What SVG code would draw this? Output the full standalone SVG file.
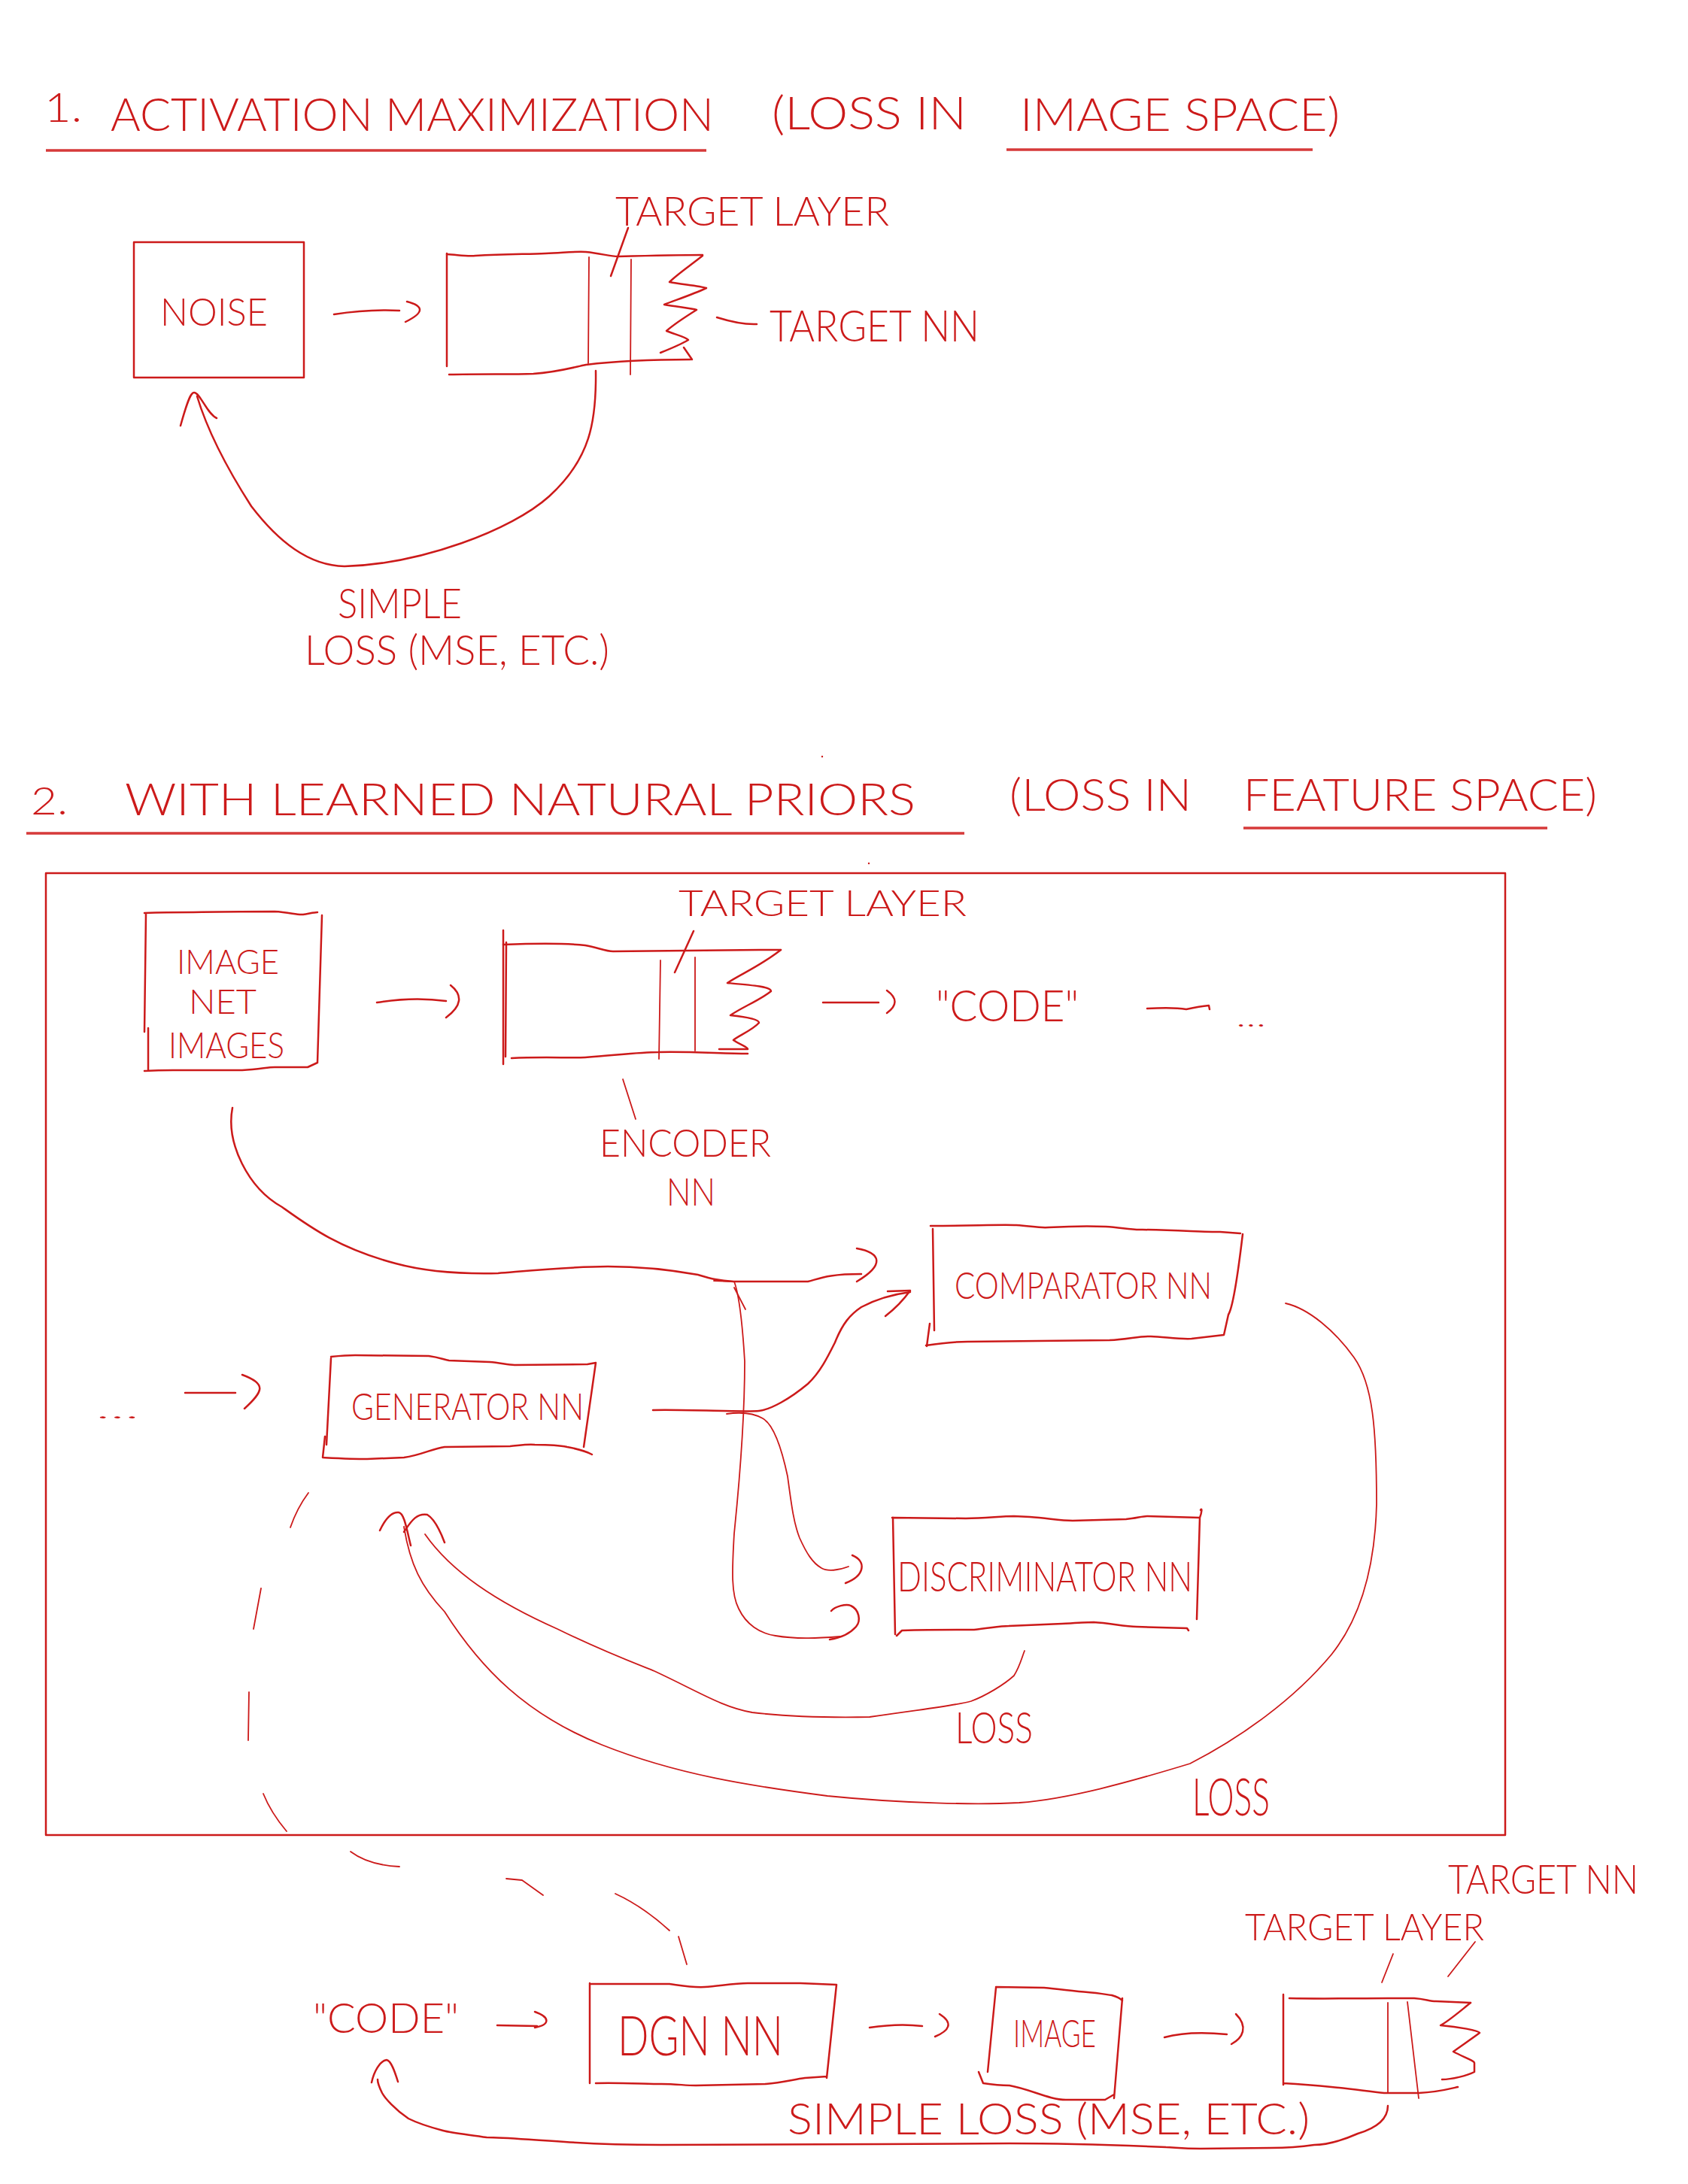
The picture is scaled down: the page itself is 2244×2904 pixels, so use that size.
<svg xmlns="http://www.w3.org/2000/svg" width="2244" height="2904" viewBox="0 0 2244 2904">
<style>
.ln{fill:none;stroke:#cc1a1a;stroke-width:2.5;stroke-linecap:round;stroke-linejoin:round}
.th{fill:none;stroke:#cc1a1a;stroke-width:1.8;stroke-linecap:round;stroke-linejoin:round}
.ul{fill:none;stroke:#d63a3a;stroke-width:3.5}
.tx{font-family:Lato,"Liberation Sans",sans-serif;font-weight:300;fill:#cc1a1a}
</style>
<rect width="2244" height="2904" fill="#ffffff"/>

<g id="title1">
<text class="tx" x="59" y="162" font-size="54" textLength="50" lengthAdjust="spacingAndGlyphs">1.</text>
<text class="tx" x="147" y="174" font-size="62" textLength="802" lengthAdjust="spacingAndGlyphs">ACTIVATION MAXIMIZATION</text>
<text class="tx" x="1026" y="172" font-size="62" textLength="259" lengthAdjust="spacingAndGlyphs">(LOSS IN</text>
<text class="tx" x="1356" y="174" font-size="62" textLength="425" lengthAdjust="spacingAndGlyphs">IMAGE SPACE)</text>
<path class="ul" d="M61,200 L939,200 M1338,199 L1745,199"/>
</g>

<g id="noise">
<rect class="ln" x="178" y="322" width="226" height="180"/>
<text class="tx" x="213" y="433" font-size="52" textLength="143" lengthAdjust="spacingAndGlyphs">NOISE</text>
</g>

<g id="targetnn1">
<path class="ln" d="M594,338 C610,339 620,341 632,340 C670,338 700,338 725,337 C750,336 765,334 779,335 C800,337 810,341 822,341 C860,340 900,339 934,339"/>
<path class="ln" d="M597,498 C640,497 680,498 709,497 C740,495 760,489 779,485 C820,480 870,478 918,478"/>
<path class="ln" d="M594,337 L594,487"/>
<path class="th" d="M783,342 L782,483 M839,345 L838,498"/>
<path class="ln" d="M934,340 C915,355 900,365 890,375 C905,378 930,380 939,383 C920,392 895,400 883,405 C900,408 920,410 926,412 C910,422 895,432 886,440 C895,444 912,448 915,452 C905,458 888,465 878,469 M909,462 L920,478"/>
</g>

<g id="label-targetlayer1">
<text class="tx" x="818" y="300" font-size="54" textLength="364" lengthAdjust="spacingAndGlyphs">TARGET LAYER</text>
</g>
<g id="label-targetnn1">
<text class="tx" x="1023" y="454" font-size="58" textLength="279" lengthAdjust="spacingAndGlyphs">TARGET NN</text>
</g>
<g id="label-loss1">
<text class="tx" x="449" y="822" font-size="56" textLength="165" lengthAdjust="spacingAndGlyphs">SIMPLE</text>
<text class="tx" x="405" y="884" font-size="56" textLength="405" lengthAdjust="spacingAndGlyphs">LOSS (MSE, ETC.)</text>
</g>

<g id="title2">
<text class="tx" x="41" y="1083" font-size="52" textLength="49" lengthAdjust="spacingAndGlyphs">2.</text>
<text class="tx" x="166" y="1084" font-size="60" textLength="1051" lengthAdjust="spacingAndGlyphs">WITH LEARNED NATURAL PRIORS</text>
<text class="tx" x="1342" y="1078" font-size="60" textLength="242" lengthAdjust="spacingAndGlyphs">(LOSS IN</text>
<text class="tx" x="1653" y="1078" font-size="60" textLength="470" lengthAdjust="spacingAndGlyphs">FEATURE SPACE)</text>
<path class="ul" d="M35,1108 L1282,1108 M1653,1101 L2057,1101"/>
<circle cx="1093" cy="1006" r="1.2" fill="#cc1a1a"/>
<circle cx="1155" cy="1148" r="1.2" fill="#cc1a1a"/>
</g>

<g id="frame">
<rect class="ln" x="61" y="1161" width="1940" height="1279"/>
</g>

<g id="imagenet">
<path class="ln" d="M192,1214 C220,1213 240,1213 257,1213 C300,1212 340,1212 365,1212 C385,1213 395,1217 403,1216 C410,1215 418,1213 422,1213 M428,1217 L422,1413 M192,1424 C210,1423 220,1423 230,1423 C270,1423 300,1423 322,1423 C345,1422 355,1419 365,1419 L409,1419 L422,1413 M194,1215 L192,1372 M197,1367 L197,1424"/>
<text class="tx" x="235" y="1295" font-size="46" textLength="136" lengthAdjust="spacingAndGlyphs">IMAGE</text>
<text class="tx" x="251" y="1348" font-size="46" textLength="90" lengthAdjust="spacingAndGlyphs">NET</text>
<text class="tx" x="224" y="1407" font-size="48" textLength="154" lengthAdjust="spacingAndGlyphs">IMAGES</text>
</g>

<g id="encoder">
<path class="ln" d="M669,1237 L669,1415 M673,1253 L672,1405"/>
<path class="ln" d="M669,1256 C720,1254 760,1255 778,1257 C795,1260 805,1265 815,1265 C880,1265 960,1263 1038,1263"/>
<path class="ln" d="M680,1407 C720,1405 760,1407 778,1406 C820,1403 850,1399 875,1399 C920,1398 960,1401 994,1401"/>
<path class="th" d="M878,1277 L876,1408 M924,1273 L924,1397"/>
<path class="ln" d="M1038,1263 C1010,1285 985,1295 967,1307 C1000,1310 1025,1312 1025,1318 C1010,1330 985,1340 971,1350 C990,1352 1009,1355 1009,1360 C1000,1370 980,1378 975,1383 C985,1390 994,1392 994,1395 L956,1395"/>
<text class="tx" x="902" y="1218" font-size="48" textLength="383" lengthAdjust="spacingAndGlyphs">TARGET LAYER</text>
<text class="tx" x="797" y="1538" font-size="52" textLength="228" lengthAdjust="spacingAndGlyphs">ENCODER</text>
<text class="tx" x="886" y="1603" font-size="52" textLength="65" lengthAdjust="spacingAndGlyphs">NN</text>
</g>

<g id="code1">
<text class="tx" x="1244" y="1358" font-size="58" textLength="190" lengthAdjust="spacingAndGlyphs">"CODE"</text>
<text class="tx" x="1643" y="1365" font-size="32" textLength="40" lengthAdjust="spacingAndGlyphs">...</text>
</g>

<g id="comparator">
<path class="ln" d="M1237,1630 C1290,1630 1330,1628 1351,1629 C1370,1630 1380,1633 1394,1632 C1430,1630 1450,1630 1470,1631 C1490,1632 1505,1636 1519,1635 C1570,1636 1600,1638 1622,1638 L1649,1640 M1652,1641 C1645,1700 1638,1740 1633,1748 L1627,1775 M1231,1789 C1250,1786 1270,1784 1286,1784 C1360,1783 1430,1782 1475,1782 C1500,1781 1515,1776 1530,1777 C1550,1778 1570,1781 1584,1780 L1627,1775 M1240,1634 L1242,1769 M1236,1760 L1232,1790"/>
<text class="tx" x="1269" y="1727" font-size="50" textLength="342" lengthAdjust="spacingAndGlyphs">COMPARATOR NN</text>
</g>

<g id="generator">
<path class="ln" d="M440,1804 C460,1802 472,1802 472,1802 L570,1803 C585,1805 590,1808 597,1809 L651,1811 C665,1812 675,1815 684,1815 L781,1814 L792,1812 M792,1812 L776,1924 M429,1938 C450,1939 470,1940 488,1940 L537,1938 C560,1935 575,1926 591,1924 L678,1923 C690,1922 700,1920 711,1921 C730,1921 745,1922 754,1924 C770,1927 780,1930 787,1934 M440,1806 L434,1921 M432,1910 L429,1938"/>
<text class="tx" x="467" y="1888" font-size="49" textLength="309" lengthAdjust="spacingAndGlyphs">GENERATOR NN</text>
</g>

<g id="discriminator">
<path class="ln" d="M1186,2018 L1284,2019 C1310,2019 1330,2016 1348,2016 L1369,2017 C1395,2019 1410,2022 1426,2022 L1497,2020 C1510,2019 1518,2016 1525,2016 L1595,2018 C1598,2010 1598,2004 1596,2008 M1595,2018 L1591,2153 M1192,2175 L1199,2168 C1240,2167 1270,2167 1295,2167 C1315,2165 1330,2162 1341,2162 L1412,2159 C1430,2158 1445,2157 1454,2157 C1475,2158 1495,2163 1511,2163 L1578,2165 L1580,2168 M1187,2018 L1190,2173"/>
<text class="tx" x="1193" y="2116" font-size="55" textLength="392" lengthAdjust="spacingAndGlyphs">DISCRIMINATOR NN</text>
</g>

<g id="loss-labels">
<text class="tx" x="1270" y="2318" font-size="57" textLength="103" lengthAdjust="spacingAndGlyphs">LOSS</text>
<text class="tx" x="1585" y="2414" font-size="68" textLength="103" lengthAdjust="spacingAndGlyphs">LOSS</text>
</g>

<g id="pipeline-code">
<text class="tx" x="416" y="2703" font-size="56" textLength="194" lengthAdjust="spacingAndGlyphs">"CODE"</text>
</g>
<g id="dgn">
<path class="ln" d="M786,2638 L890,2638 C905,2640 920,2643 937,2642 C955,2641 975,2637 994,2637 L1064,2637 L1112,2639 M1112,2639 L1099,2763 M792,2770 C820,2769 860,2771 879,2771 C900,2771 910,2773 925,2773 L1018,2771 C1040,2769 1055,2765 1070,2763 L1099,2761 M784,2637 L784,2770"/>
<text class="tx" x="821" y="2733" font-size="72" textLength="220" lengthAdjust="spacingAndGlyphs">DGN NN</text>
</g>
<g id="image">
<path class="ln" d="M1324,2642 L1388,2643 C1410,2645 1430,2648 1446,2649 C1460,2650 1470,2652 1478,2653 C1485,2655 1490,2658 1492,2660 M1492,2657 L1481,2790 M1307,2770 C1320,2772 1330,2773 1342,2773 C1370,2778 1395,2792 1417,2792 L1469,2792 L1481,2785 M1324,2643 L1313,2755 M1301,2755 L1307,2770"/>
<text class="tx" x="1347" y="2722" font-size="52" textLength="110" lengthAdjust="spacingAndGlyphs">IMAGE</text>
</g>
<g id="targetnn2">
<path class="ln" d="M1706,2652 L1706,2772 M1714,2657 C1760,2658 1800,2657 1845,2657 L1880,2657 C1895,2658 1900,2661 1909,2661 L1955,2663 M1706,2770 C1740,2772 1760,2774 1770,2775 C1800,2778 1820,2781 1840,2783 L1886,2783 C1910,2782 1925,2778 1938,2775"/>
<path class="th" d="M1845,2663 L1845,2783 M1871,2662 L1886,2790"/>
<path class="ln" d="M1955,2663 C1940,2675 1925,2688 1915,2693 C1940,2695 1965,2700 1967,2703 C1955,2712 1940,2722 1932,2728 C1945,2735 1960,2740 1960,2743 L1960,2755 C1950,2760 1930,2765 1917,2765"/>
<text class="tx" x="1655" y="2580" font-size="50" textLength="318" lengthAdjust="spacingAndGlyphs">TARGET LAYER</text>
<text class="tx" x="1925" y="2518" font-size="54" textLength="253" lengthAdjust="spacingAndGlyphs">TARGET NN</text>
<text class="tx" x="1047" y="2838" font-size="58" textLength="694" lengthAdjust="spacingAndGlyphs">SIMPLE LOSS (MSE, ETC.)</text>
</g>

<g id="connectors">
<path class="ln" d="M835,303 L812,367"/>
<path class="ln" d="M953,422 Q985,432 1006,431"/>
<path class="ln" d="M444,418 Q490,411 531,413 M541,401 Q576,410 539,428"/>
<path class="ln" d="M792,493 C793,560 785,610 730,660 C680,705 560,750 458,753 C410,752 370,720 334,673 C300,620 275,570 262,527"/>
<path class="ln" d="M240,566 C250,530 254,522 258,522 C266,522 275,550 288,556"/>
<path class="ln" d="M501,1333 Q550,1325 593,1331 M599,1310 Q624,1330 593,1353"/>
<path class="ln" d="M922,1238 L897,1293"/>
<path class="ln" d="M1094,1333 L1168,1333 M1179,1317 Q1200,1332 1179,1347"/>
<path class="ln" d="M1525,1341 Q1560,1339 1577,1342 Q1595,1338 1607,1337 L1608,1342"/>
<path class="th" d="M828,1435 L845,1488"/>
<path class="ln" d="M309,1473 C300,1520 330,1580 375,1605 C410,1630 450,1660 526,1680 C570,1692 620,1694 662,1693 C700,1690 760,1684 808,1684 C860,1684 900,1690 928,1695 C945,1700 955,1703 975,1704 L1074,1704 C1090,1700 1100,1694 1145,1694"/>
<path class="ln" d="M1139,1660 C1172,1666 1176,1682 1139,1704"/>
<path class="th" d="M949,1703 L976,1704 C982,1720 987,1760 990,1810 C990,1900 980,2000 976,2039 C973,2090 972,2120 982,2139 C992,2160 1010,2172 1031,2175 C1060,2180 1090,2178 1117,2176"/>
<path class="th" d="M976,1712 L991,1741"/>
<path class="ln" d="M1105,2142 C1110,2136 1125,2132 1131,2135 C1142,2140 1145,2155 1138,2163 C1130,2172 1117,2178 1103,2180"/>
<path class="ln" d="M868,1875 C920,1874 990,1878 1009,1876 C1025,1874 1050,1860 1074,1840 C1090,1825 1100,1805 1110,1785 C1120,1760 1130,1748 1145,1738 C1160,1730 1180,1722 1210,1718"/>
<path class="ln" d="M1180,1717 L1210,1716 C1200,1730 1190,1740 1177,1750"/>
<path class="th" d="M966,1880 C980,1878 1000,1878 1014,1886 C1030,1895 1040,1930 1047,1963 C1052,2000 1055,2025 1063,2045 C1072,2065 1080,2078 1092,2085 C1100,2090 1115,2088 1128,2083"/>
<path class="ln" d="M1133,2068 C1152,2076 1150,2095 1124,2105"/>
<text class="tx" x="127" y="1886" font-size="30" textLength="58" lengthAdjust="spacingAndGlyphs">...</text>
<path class="ln" d="M246,1852 L313,1852 M322,1828 C355,1840 350,1850 325,1873"/>
<path class="th" d="M537,2030 C545,2080 560,2110 591,2143 C640,2220 700,2280 800,2320 C900,2360 1000,2375 1100,2388 C1200,2398 1300,2400 1355,2397 C1420,2392 1500,2370 1582,2345 C1650,2310 1720,2260 1770,2200 C1810,2150 1828,2080 1830,2000 C1830,1900 1825,1840 1800,1805 C1775,1770 1740,1740 1709,1733"/>
<path class="ln" d="M505,2035 C512,2020 520,2010 530,2011 C537,2012 540,2030 546,2055"/>
<path class="th" d="M565,2040 C600,2090 660,2130 741,2166 C800,2195 840,2210 870,2222 C930,2250 960,2270 1000,2277 C1050,2283 1100,2284 1156,2283 C1230,2272 1270,2268 1291,2262 C1310,2255 1335,2240 1348,2228 C1356,2215 1358,2205 1362,2195"/>
<path class="ln" d="M537,2037 C548,2020 555,2012 568,2014 C578,2020 585,2035 591,2051"/>
<path class="th" d="M410,1985 Q395,2005 386,2031 M347,2112 L337,2166 M331,2250 L330,2314 M350,2385 Q360,2410 381,2435 M466,2462 Q490,2480 531,2482 M673,2498 L694,2500 L722,2520 M818,2518 Q855,2535 890,2567 M902,2575 L913,2612"/>
<path class="ln" d="M661,2693 L714,2694 M711,2675 C731,2682 732,2692 711,2696"/>
<path class="ln" d="M1156,2696 Q1195,2690 1226,2694 M1249,2678 C1268,2690 1262,2700 1243,2708"/>
<path class="ln" d="M1548,2709 C1570,2703 1600,2702 1631,2705 M1643,2678 C1660,2695 1652,2710 1637,2718"/>
<path class="th" d="M1852,2598 L1837,2636 M1961,2582 L1925,2628"/>
<path class="ln" d="M1845,2800 C1845,2815 1835,2828 1805,2837 C1780,2848 1760,2852 1747,2852 C1720,2856 1700,2856 1689,2856 L1596,2857 C1570,2857 1560,2855 1550,2855 C1480,2852 1400,2850 1342,2850 C1280,2850 1220,2851 1168,2851 L879,2852 C820,2852 780,2850 751,2848 C700,2845 670,2842 647,2842 C620,2838 600,2836 589,2833 C570,2828 555,2823 543,2817 C525,2805 512,2790 508,2783 C504,2775 502,2770 502,2765"/>
<path class="ln" d="M494,2769 C497,2755 505,2740 514,2739 C520,2740 525,2755 529,2768"/>
</g>
</svg>
